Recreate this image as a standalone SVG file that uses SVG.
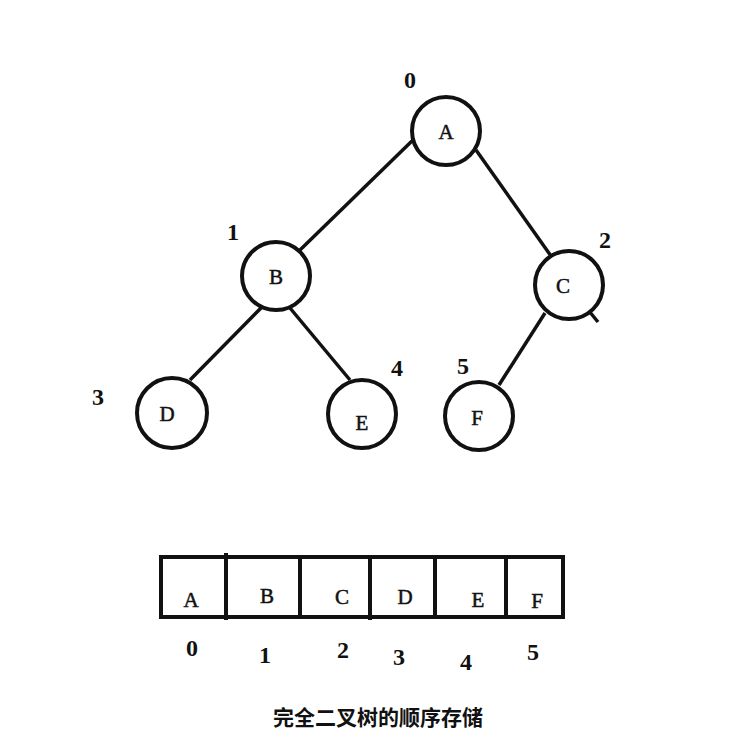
<svg xmlns="http://www.w3.org/2000/svg" width="734" height="736" viewBox="0 0 734 736">
<style>
.node{fill:#fff;stroke:#111;stroke-width:4}
.lbl{font-family:"Liberation Serif","DejaVu Serif",serif;font-size:21px;fill:#111;stroke:#111;stroke-width:0.5;text-anchor:middle}
.idx{font-family:"Liberation Serif","DejaVu Serif",serif;font-size:24px;font-weight:bold;fill:#111;text-anchor:middle}
.edge{stroke:#111;stroke-width:3.5;fill:none}
.cell{fill:none;stroke:#111;stroke-width:4}
.cap{font-family:"Noto Sans CJK SC","Noto Sans CJK TC",sans-serif;font-size:21px;font-weight:bold;fill:#111;text-anchor:middle}
</style>
<rect width="734" height="736" fill="#fff"/>
<g id="connectors">
<line class="edge" x1="413" y1="140" x2="300" y2="250"/>
<line class="edge" x1="476" y1="150" x2="551" y2="256"/>
<line class="edge" x1="262" y1="307" x2="190" y2="380"/>
<line class="edge" x1="290" y1="308" x2="350" y2="380"/>
<line class="edge" x1="545" y1="313" x2="499" y2="385"/>
<line class="edge" x1="589" y1="311" x2="598" y2="322"/>
</g>
<g id="nodeA"><circle class="node" cx="446" cy="131" r="34"/><text class="lbl" x="446" y="139">A</text><text class="idx" x="410" y="88">0</text></g>
<g id="nodeB"><circle class="node" cx="276" cy="276" r="34"/><text class="lbl" x="276" y="284">B</text><text class="idx" x="233" y="240">1</text></g>
<g id="nodeC"><circle class="node" cx="569" cy="285" r="34"/><text class="lbl" x="563" y="293">C</text><text class="idx" x="605" y="248">2</text></g>
<g id="nodeD"><circle class="node" cx="172" cy="413" r="35"/><text class="lbl" x="167" y="421">D</text><text class="idx" x="98" y="405">3</text></g>
<g id="nodeE"><circle class="node" cx="362" cy="414" r="34"/><text class="lbl" x="362" y="430">E</text><text class="idx" x="397" y="376">4</text></g>
<g id="nodeF"><circle class="node" cx="479" cy="416" r="34"/><text class="lbl" x="477" y="425">F</text><text class="idx" x="463" y="374">5</text></g>
<g id="array">
<rect class="cell" x="161" y="557" width="402" height="60"/>
<line class="cell" x1="226" y1="553" x2="226" y2="620"/>
<line class="cell" x1="300" y1="557" x2="300" y2="617"/>
<line class="cell" x1="370" y1="557" x2="370" y2="620"/>
<line class="cell" x1="435" y1="557" x2="435" y2="617"/>
<line class="cell" x1="506" y1="557" x2="506" y2="617"/>
<text class="lbl" x="191" y="607">A</text>
<text class="lbl" x="267" y="603">B</text>
<text class="lbl" x="342" y="604">C</text>
<text class="lbl" x="405" y="604">D</text>
<text class="lbl" x="478" y="607">E</text>
<text class="lbl" x="537" y="608">F</text>
<text class="idx" x="192" y="656">0</text>
<text class="idx" x="265" y="663">1</text>
<text class="idx" x="343" y="658">2</text>
<text class="idx" x="399" y="665">3</text>
<text class="idx" x="466" y="670">4</text>
<text class="idx" x="533" y="660">5</text>
</g>
<text class="cap" x="378" y="725">完全二叉树的顺序存储</text>
</svg>
